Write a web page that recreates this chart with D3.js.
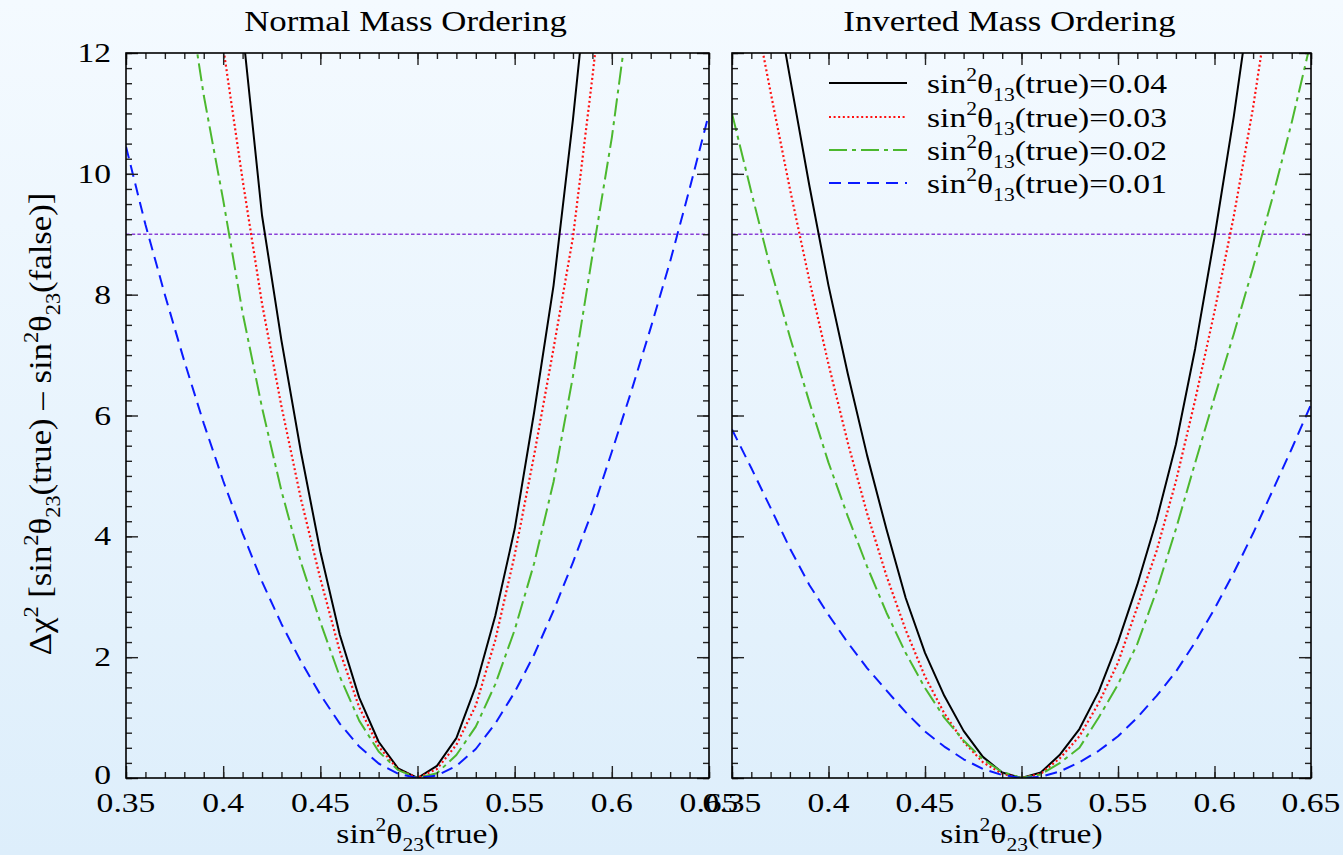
<!DOCTYPE html>
<html><head><meta charset="utf-8">
<script src="https://cdn.jsdelivr.net/npm/d3@7"></script>
<style>
html,body{margin:0;padding:0;}
body{width:1343px;height:855px;overflow:hidden;background:linear-gradient(#f4faff,#ddeefb);}
text{font-family:"Liberation Serif","Times New Roman",serif;fill:#000;}
</style>
</head><body><svg id="c" width="1343" height="855"></svg>
<script>
// ---------------- data ----------------
const sin2t23 = [0.35,0.36,0.37,0.38,0.39,0.40,0.41,0.42,0.43,0.44,0.45,0.46,0.47,0.48,0.49,0.50,
                 0.51,0.52,0.53,0.54,0.55,0.56,0.57,0.58,0.59,0.60,0.61,0.62,0.63,0.64,0.65];
// Normal Mass Ordering
const no_004 = [null,null,null,null,null,15.5,12.4,9.31,7.24,5.4,3.75,2.37,1.33,0.6,0.16,0,
                0.2,0.66,1.52,2.68,4.12,6.05,8.15,10.9,14.0,null,null,null,null,null,null];
const no_003 = [null,null,null,null,14.6,12.1,9.9,7.85,6.15,4.62,3.3,2.1,1.17,0.52,0.14,0,
                0.15,0.55,1.2,2.28,3.69,5.34,7.11,8.95,11.6,14.5,null,null,null,null,null];
const no_002 = [null,null,null,13.4,11.3,9.57,7.7,6.13,4.75,3.57,2.58,1.68,0.95,0.44,0.13,0,
                0.08,0.38,0.85,1.55,2.45,3.55,4.9,6.65,8.65,10.6,13.0,null,null,null,null];
const no_001 = [10.45,9.16,8.0,6.9,5.87,4.92,4.05,3.25,2.55,1.93,1.38,0.9,0.52,0.24,0.07,0,
                0.04,0.2,0.48,0.9,1.42,2.04,2.77,3.57,4.42,5.4,6.4,7.45,8.55,9.75,11.0];
// Inverted Mass Ordering
const io_004 = [null,null,13.4,11.6,9.82,8.15,6.69,5.34,4.12,2.98,2.07,1.36,0.78,0.35,0.09,0,
                0.09,0.39,0.81,1.43,2.25,3.2,4.27,5.52,7.11,8.95,10.95,13.2,null,null,null];
const io_003 = [null,13.0,11.35,9.75,8.25,6.85,5.55,4.38,3.35,2.45,1.68,1.07,0.6,0.26,0.07,0,
                0.07,0.33,0.69,1.24,1.91,2.83,3.76,4.91,6.26,7.72,9.3,11.1,13.2,null,null];
const io_002 = [11.0,9.7,8.43,7.3,6.23,5.22,4.33,3.5,2.74,2.07,1.49,1.0,0.62,0.31,0.1,0,
                0.06,0.25,0.5,1.0,1.55,2.22,3.1,4.12,5.22,6.3,7.35,8.45,9.6,10.85,12.2];
const io_001 = [5.77,5.13,4.47,3.8,3.2,2.7,2.24,1.82,1.45,1.09,0.77,0.52,0.31,0.15,0.05,0,
                0.02,0.11,0.26,0.45,0.69,1.0,1.36,1.76,2.25,2.8,3.4,4.05,4.75,5.45,6.18];

const panelTitles = ["Normal Mass Ordering","Inverted Mass Ordering"];
const legendValues = ["0.04","0.03","0.02","0.01"];
const xMajorTicks = [0.35,0.40,0.45,0.50,0.55,0.60,0.65];
const xTickLabels = ["0.35","0.4","0.45","0.5","0.55","0.6","0.65"];
const xMinorTicks = d3.range(35,66).map(v=>v/100);
const yMajorTicks = [0,2,4,6,8,10,12];
const yTickLabels = ["0","2","4","6","8","10","12"];
const yMinorTicks = d3.range(0,49).map(v=>v/4);
const threshold = 9;

// ---------------- styles ----------------
const seriesStyle = [
  {color:"#000000", dash:null, w:2},
  {color:"#ff1010", dash:"2,2.6", w:2.2},
  {color:"#4cb82e", dash:"18,5,4,5", w:2},
  {color:"#0a1aff", dash:"12,7", w:2}
];
const SX = 1.2;

const svg = d3.select("#c");
const y = d3.scaleLinear().domain([0,12]).range([778,53]);
const panels = [
  {x:d3.scaleLinear().domain([0.35,0.65]).range([126,709]), data:[no_004,no_003,no_002,no_001], title:panelTitles[0], yLabels:true},
  {x:d3.scaleLinear().domain([0.35,0.65]).range([732,1311]), data:[io_004,io_003,io_002,io_001], title:panelTitles[1], yLabels:false}
];

function stext(parent, x, yy, anchor, size, rot, sx){
  const g = parent.append("g").attr("transform", `translate(${x},${yy})${rot?` rotate(${rot})`:""} scale(${sx||SX},1)`);
  return g.append("text").attr("text-anchor", anchor).attr("font-size", size);
}
// sin^2 theta_sub (suffix)
function sinLabel(t, sub, suffix, size){
  const s = Math.round(size*0.66), up = Math.round(size*0.42), dn = Math.round(size*0.3);
  t.append("tspan").text("sin");
  t.append("tspan").attr("font-size", s).attr("dy", -up).text("2");
  t.append("tspan").attr("dy", up).text("θ");
  t.append("tspan").attr("font-size", s).attr("dy", dn).text(sub);
  t.append("tspan").attr("dy", -dn).text(suffix);
}

panels.forEach((p,pi)=>{
  const x = p.x;
  const x0 = x.range()[0], x1 = x.range()[1];
  const g = svg.append("g");
  const clipId = "clip"+pi;
  svg.append("clipPath").attr("id", clipId).append("rect")
    .attr("x", x0).attr("y", y(12)).attr("width", x1-x0).attr("height", y(0)-y(12));

  // threshold line
  g.append("line").attr("x1",x0).attr("x2",x1).attr("y1",y(threshold)).attr("y2",y(threshold))
    .attr("stroke","#8a3fd6").attr("stroke-width",1.6).attr("stroke-dasharray","3.5,2.2");

  // curves
  const cg = g.append("g").attr("clip-path", `url(#${clipId})`);
  p.data.forEach((arr,i)=>{
    const st = seriesStyle[i];
    const pts = sin2t23.map((v,k)=>[v, arr[k]]);
    const line = d3.line().defined(d=>d[1]!==null).x(d=>x(d[0])).y(d=>y(d[1]));
    cg.append("path").attr("d", line(pts)).attr("fill","none")
      .attr("stroke", st.color).attr("stroke-width", st.w)
      .attr("stroke-dasharray", st.dash).attr("stroke-linejoin","round");
  });

  // axes ticks (inward on all four sides)
  const tickStyle = sel => { sel.select(".domain").remove(); sel.selectAll("line").attr("stroke","#222").attr("stroke-width",1.4); };
  g.append("g").attr("transform",`translate(0,${y(0)})`).call(d3.axisBottom(x).tickValues(xMinorTicks).tickSize(-6).tickFormat("")).call(tickStyle);
  g.append("g").attr("transform",`translate(0,${y(0)})`).call(d3.axisBottom(x).tickValues(xMajorTicks).tickSize(-12).tickFormat("")).call(tickStyle);
  g.append("g").attr("transform",`translate(0,${y(12)})`).call(d3.axisTop(x).tickValues(xMinorTicks).tickSize(-6).tickFormat("")).call(tickStyle);
  g.append("g").attr("transform",`translate(0,${y(12)})`).call(d3.axisTop(x).tickValues(xMajorTicks).tickSize(-12).tickFormat("")).call(tickStyle);
  g.append("g").attr("transform",`translate(${x0},0)`).call(d3.axisLeft(y).tickValues(yMinorTicks).tickSize(-6).tickFormat("")).call(tickStyle);
  g.append("g").attr("transform",`translate(${x0},0)`).call(d3.axisLeft(y).tickValues(yMajorTicks).tickSize(-12).tickFormat("")).call(tickStyle);
  g.append("g").attr("transform",`translate(${x1},0)`).call(d3.axisRight(y).tickValues(yMinorTicks).tickSize(-6).tickFormat("")).call(tickStyle);
  g.append("g").attr("transform",`translate(${x1},0)`).call(d3.axisRight(y).tickValues(yMajorTicks).tickSize(-12).tickFormat("")).call(tickStyle);

  // frame
  g.append("rect").attr("x",x0).attr("y",y(12)).attr("width",x1-x0).attr("height",y(0)-y(12))
    .attr("fill","none").attr("stroke","#000").attr("stroke-width",1.6);

  // tick labels
  xMajorTicks.forEach((v,k)=>{
    stext(g, x(v), 812, "middle", 28).text(xTickLabels[k]);
  });
  if(p.yLabels){
    yMajorTicks.forEach((v,k)=>{
      stext(g, 111, y(v)+9 - (v===0?3:0), "end", 28).text(yTickLabels[k]);
    });
  }
  // title
  stext(g, (x0+x1)/2-12, 31, "middle", 29).text(p.title);
  // x label
  sinLabel(stext(g, (x0+x1)/2, 843, "middle", 28), "23", "(true)", 28);
});

// y label
{
  const t = stext(svg, 51, 424, "middle", 31, -90, 1.12);
  const s = 20, up = 13, dn = 9;
  t.append("tspan").text("Δχ");
  t.append("tspan").attr("font-size", s).attr("dy", -up).text("2");
  t.append("tspan").attr("dy", up).text(" [sin");
  t.append("tspan").attr("font-size", s).attr("dy", -up).text("2");
  t.append("tspan").attr("dy", up).text("θ");
  t.append("tspan").attr("font-size", s).attr("dy", dn).text("23");
  t.append("tspan").attr("dy", -dn).text("(true) – sin");
  t.append("tspan").attr("font-size", s).attr("dy", -up).text("2");
  t.append("tspan").attr("dy", up).text("θ");
  t.append("tspan").attr("font-size", s).attr("dy", dn).text("23");
  t.append("tspan").attr("dy", -dn).text("(false)]");
}

// legend
{
  const lg = svg.append("g");
  const rows = [83,117,150,183];
  legendValues.forEach((v,i)=>{
    const st = seriesStyle[i];
    lg.append("line").attr("x1",829).attr("x2",907).attr("y1",rows[i]).attr("y2",rows[i])
      .attr("stroke",st.color).attr("stroke-width",st.w).attr("stroke-dasharray",st.dash);
    sinLabel(stext(lg, 927, rows[i]+10, "start", 28), "13", "(true)="+v, 28);
  });
}
</script></body></html>
